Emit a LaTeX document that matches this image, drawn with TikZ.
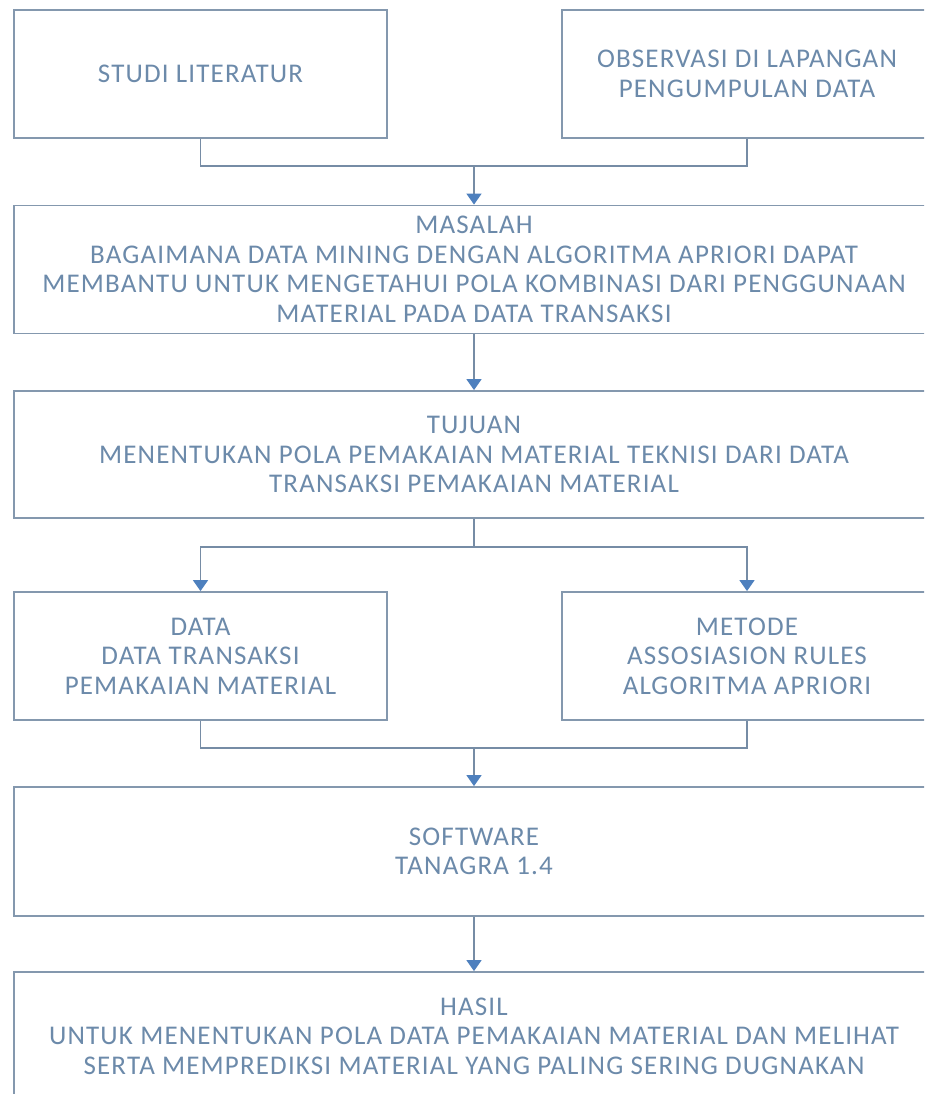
\documentclass[tikz,border=0pt]{standalone}
\usepackage{fontspec}
\setmainfont{Carlito}[LetterSpace=4.3]
\usetikzlibrary{arrows.meta}
\definecolor{boxline}{RGB}{132,152,174}
\definecolor{connline}{RGB}{118,140,165}
\definecolor{arrblue}{RGB}{78,128,190}
\definecolor{txt}{RGB}{108,138,170}
\begin{document}
\begin{tikzpicture}[x=1pt,y=-1pt,
  fbox/.style={draw=boxline,line width=1.8pt,rectangle,inner sep=0pt,
    align=center,text=txt,font=\fontsize{27}{29.5}\selectfont},
  conn/.style={draw=connline,line width=1.5pt},
  arr/.style={conn,-{Triangle[width=15pt,length=11pt,color=arrblue]}}]
\useasboundingbox (0,0) rectangle (924,1094);
\fill[white] (0,0) rectangle (924,1094);
\clip (0,0) rectangle (924,1094);
\node[fbox,minimum width=373pt,minimum height=128pt] (studi) at (200.5,74) {STUDI LITERATUR};
\node[fbox,minimum width=370pt,minimum height=128pt] (obs) at (747,74) {OBSERVASI DI LAPANGAN\\PENGUMPULAN DATA};
\node[fbox,minimum width=920pt,minimum height=128pt] (masalah) at (474,269.5) {MASALAH\\BAGAIMANA DATA MINING DENGAN ALGORITMA APRIORI DAPAT\\MEMBANTU UNTUK MENGETAHUI POLA KOMBINASI DARI PENGGUNAAN\\MATERIAL PADA DATA TRANSAKSI};
\node[fbox,minimum width=920pt,minimum height=127pt] (tujuan) at (474,454.5) {TUJUAN\\MENENTUKAN POLA PEMAKAIAN MATERIAL TEKNISI DARI DATA\\TRANSAKSI PEMAKAIAN MATERIAL};
\node[fbox,minimum width=373pt,minimum height=128pt] (data) at (200.5,656) {DATA\\DATA TRANSAKSI\\PEMAKAIAN MATERIAL};
\node[fbox,minimum width=370pt,minimum height=128pt] (metode) at (747,656) {METODE\\ASSOSIASION RULES\\ALGORITMA APRIORI};
\node[fbox,minimum width=920pt,minimum height=129pt] (software) at (474,851.5) {SOFTWARE\\TANAGRA 1.4};
\node[fbox,minimum width=920pt,minimum height=128pt] (hasil) at (474,1036) {HASIL\\UNTUK MENENTUKAN POLA DATA PEMAKAIAN MATERIAL DAN MELIHAT\\SERTA MEMPREDIKSI MATERIAL YANG PALING SERING DUGNAKAN};
\coordinate (j1) at (474,166);
\coordinate (j2) at (474,547);
\coordinate (j3) at (474,748);
\draw[conn] (studi.south) |- (j1) -| (obs.south);
\draw[arr] (j1) -- (masalah.north);
\draw[arr] (masalah.south) -- (tujuan.north);
\draw[conn] (tujuan.south) -- (j2);
\draw[arr] (j2) -| (data.north);
\draw[arr] (j2) -| (metode.north);
\draw[conn] (data.south) |- (j3) -| (metode.south);
\draw[arr] (j3) -- (software.north);
\draw[arr] (software.south) -- (hasil.north);
\end{tikzpicture}
\end{document}
